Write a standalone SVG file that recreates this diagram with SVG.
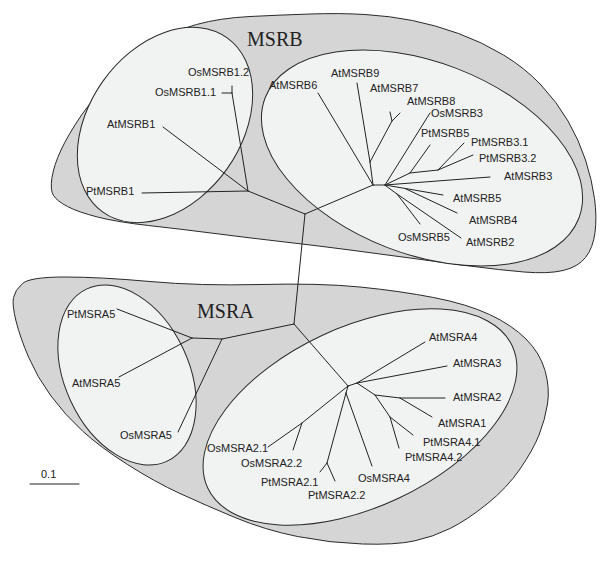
<svg xmlns="http://www.w3.org/2000/svg" width="604" height="567" viewBox="0 0 604 567">
<style>
.outer{fill:#d5d5d5;stroke:#2a2a2a;stroke-width:1}
.inner{fill:#f1f2f2;stroke:#2a2a2a;stroke-width:1}
.br{fill:none;stroke:#222;stroke-width:1;stroke-linecap:round}
.lb{font-family:"Liberation Sans",Arial,sans-serif;font-size:11px;fill:#222}
.big{font-family:"Liberation Serif","Times New Roman",serif;font-size:20px;fill:#222}
</style>
<rect width="604" height="567" fill="#ffffff"/>
<g id="group-MSRB">
<path class="outer" d="M53.5,195.5 Q50,190 52,177.5 Q54,165 61,150 Q68,135 81.5,115 Q95,95 114,75.5 Q133,56 153,43.5 Q173,31 196.5,24.5 Q220,18 250,16.5 Q280,15 310,14 Q340,13 365,14.5 Q390,16 412.5,20.5 Q435,25 458.5,33.5 Q482,42 503.5,55 Q525,68 541,85 Q557,102 568,121 Q579,140 585.5,160 Q592,180 594.5,198.5 Q597,217 595,232.5 Q593,248 585.5,257.5 Q578,267 563,270.5 Q548,274 524,272 Q500,270 470,266 Q440,262 410,258 Q380,254 350,250 Q320,246 285,242 Q250,238 215,233.5 Q180,229 148.5,225.5 Q117,222 97.5,217 Q78,212 67.5,206.5 Q57,201 53.5,195.5 Z"/>
<text class="big" x="247" y="46">MSRB</text>
</g>
<g id="group-MSRA">
<path class="outer" d="M13.5,297.5 Q15,290 22.5,283.5 Q30,277 65,277 Q100,277 150,281.5 Q200,286 260,284.5 Q320,283 360,287 Q400,291 433.5,297.5 Q467,304 489.5,314.5 Q512,325 526,339 Q540,353 545,370.5 Q550,388 547.5,404 Q545,420 539,435 Q533,450 520,469 Q507,488 487,504 Q467,520 450,528.5 Q433,537 414,541 Q395,545 362.5,544 Q330,543 297.5,536.5 Q265,530 235,517.5 Q205,505 180,493.5 Q155,482 127.5,464.5 Q100,447 82.5,431 Q65,415 51,396 Q37,377 28.5,357 Q20,337 16,321 Q12,305 13.5,297.5 Z"/>
<text class="big" x="197" y="318">MSRA</text>
</g>
<g id="clade-B1"><ellipse class="inner" cx="165" cy="125" rx="107" ry="76" transform="rotate(-54.5 165 125)"/></g>
<g id="clade-B2"><ellipse class="inner" cx="422" cy="158" rx="168" ry="96" transform="rotate(21 422 158)"/></g>
<g id="clade-A5"><ellipse class="inner" cx="127" cy="375" rx="95" ry="62" transform="rotate(65 127 375)"/></g>
<g id="clade-A2"><ellipse class="inner" cx="360" cy="417" rx="168" ry="90" transform="rotate(-25 360 417)"/></g>
<g id="connectors" class="br">
<line x1="305" y1="214" x2="248" y2="191"/>
<line x1="248" y1="191" x2="142" y2="193"/>
<line x1="248" y1="191" x2="163" y2="127"/>
<line x1="248" y1="191" x2="232" y2="93"/>
<line x1="232" y1="93" x2="222" y2="93"/>
<line x1="232" y1="93" x2="232" y2="86"/>
<line x1="305" y1="214" x2="373" y2="185"/>
<line x1="373" y1="185" x2="318" y2="93"/>
<line x1="373" y1="185" x2="370" y2="162"/>
<line x1="370" y1="162" x2="357" y2="83"/>
<line x1="370" y1="162" x2="392" y2="121"/>
<line x1="392" y1="121" x2="390" y2="112"/>
<line x1="392" y1="121" x2="400" y2="113"/>
<line x1="373" y1="185" x2="385" y2="185"/>
<line x1="385" y1="185" x2="430" y2="113"/>
<line x1="385" y1="185" x2="410" y2="173"/>
<line x1="410" y1="173" x2="430" y2="145"/>
<line x1="410" y1="173" x2="438" y2="170"/>
<line x1="438" y1="170" x2="464" y2="143"/>
<line x1="438" y1="170" x2="473" y2="155"/>
<line x1="385" y1="185" x2="490" y2="177"/>
<line x1="385" y1="185" x2="443" y2="195"/>
<line x1="405" y1="188.5" x2="457" y2="213"/>
<line x1="386" y1="186" x2="397" y2="194"/>
<line x1="397" y1="194" x2="420" y2="224"/>
<line x1="397" y1="194" x2="461" y2="238"/>
<line x1="305" y1="214" x2="294" y2="324"/>
<line x1="294" y1="324" x2="222" y2="339"/>
<line x1="222" y1="339" x2="192" y2="338"/>
<line x1="192" y1="338" x2="117" y2="309"/>
<line x1="192" y1="338" x2="119" y2="377"/>
<line x1="222" y1="339" x2="178" y2="432"/>
<line x1="294" y1="324" x2="348" y2="386"/>
<line x1="348" y1="386" x2="357" y2="383"/>
<line x1="357" y1="383" x2="425" y2="342"/>
<line x1="357" y1="383" x2="447" y2="366"/>
<line x1="357" y1="383" x2="375" y2="395"/>
<line x1="375" y1="395" x2="400" y2="398"/>
<line x1="400" y1="398" x2="445" y2="398"/>
<line x1="400" y1="398" x2="432" y2="417"/>
<line x1="375" y1="395" x2="390" y2="417"/>
<line x1="390" y1="417" x2="413" y2="435"/>
<line x1="390" y1="417" x2="399" y2="448"/>
<line x1="348" y1="386" x2="346" y2="393"/>
<line x1="346" y1="393" x2="372" y2="466"/>
<line x1="346" y1="393" x2="327" y2="463"/>
<line x1="327" y1="463" x2="320" y2="472"/>
<line x1="327" y1="463" x2="335" y2="481"/>
<line x1="348" y1="386" x2="302" y2="423"/>
<line x1="302" y1="423" x2="268" y2="447"/>
<line x1="302" y1="423" x2="293" y2="450"/>
</g>
<g id="OsMSRB1.2"><text class="lb" x="188" y="76">OsMSRB1.2</text></g>
<g id="OsMSRB1.1"><text class="lb" x="155" y="96">OsMSRB1.1</text></g>
<g id="AtMSRB1"><text class="lb" x="107" y="128">AtMSRB1</text></g>
<g id="PtMSRB1"><text class="lb" x="86" y="195">PtMSRB1</text></g>
<g id="AtMSRB6"><text class="lb" x="269" y="89">AtMSRB6</text></g>
<g id="AtMSRB9"><text class="lb" x="331" y="77">AtMSRB9</text></g>
<g id="AtMSRB7"><text class="lb" x="370" y="92">AtMSRB7</text></g>
<g id="AtMSRB8"><text class="lb" x="407" y="105">AtMSRB8</text></g>
<g id="OsMSRB3"><text class="lb" x="431" y="117">OsMSRB3</text></g>
<g id="PtMSRB5"><text class="lb" x="421" y="137">PtMSRB5</text></g>
<g id="PtMSRB3.1"><text class="lb" x="471" y="146">PtMSRB3.1</text></g>
<g id="PtMSRB3.2"><text class="lb" x="479" y="162">PtMSRB3.2</text></g>
<g id="AtMSRB3"><text class="lb" x="504" y="180">AtMSRB3</text></g>
<g id="AtMSRB5"><text class="lb" x="453" y="202">AtMSRB5</text></g>
<g id="AtMSRB4"><text class="lb" x="469" y="224">AtMSRB4</text></g>
<g id="OsMSRB5"><text class="lb" x="398" y="241">OsMSRB5</text></g>
<g id="AtMSRB2"><text class="lb" x="466" y="246">AtMSRB2</text></g>
<g id="PtMSRA5"><text class="lb" x="67" y="318">PtMSRA5</text></g>
<g id="AtMSRA5"><text class="lb" x="72" y="387">AtMSRA5</text></g>
<g id="OsMSRA5"><text class="lb" x="120" y="439">OsMSRA5</text></g>
<g id="AtMSRA4"><text class="lb" x="429" y="341">AtMSRA4</text></g>
<g id="AtMSRA3"><text class="lb" x="453" y="367">AtMSRA3</text></g>
<g id="AtMSRA2"><text class="lb" x="453" y="401">AtMSRA2</text></g>
<g id="AtMSRA1"><text class="lb" x="438" y="427">AtMSRA1</text></g>
<g id="PtMSRA4.1"><text class="lb" x="423" y="446">PtMSRA4.1</text></g>
<g id="PtMSRA4.2"><text class="lb" x="405" y="461">PtMSRA4.2</text></g>
<g id="OsMSRA4"><text class="lb" x="358" y="482">OsMSRA4</text></g>
<g id="PtMSRA2.2"><text class="lb" x="308" y="499">PtMSRA2.2</text></g>
<g id="PtMSRA2.1"><text class="lb" x="261" y="486">PtMSRA2.1</text></g>
<g id="OsMSRA2.2"><text class="lb" x="241" y="467">OsMSRA2.2</text></g>
<g id="OsMSRA2.1"><text class="lb" x="207" y="452">OsMSRA2.1</text></g>
<g id="scale-bar">
<line class="br" x1="30" y1="484" x2="79" y2="484"/>
<text class="lb" x="41" y="478">0.1</text>
</g>
</svg>
